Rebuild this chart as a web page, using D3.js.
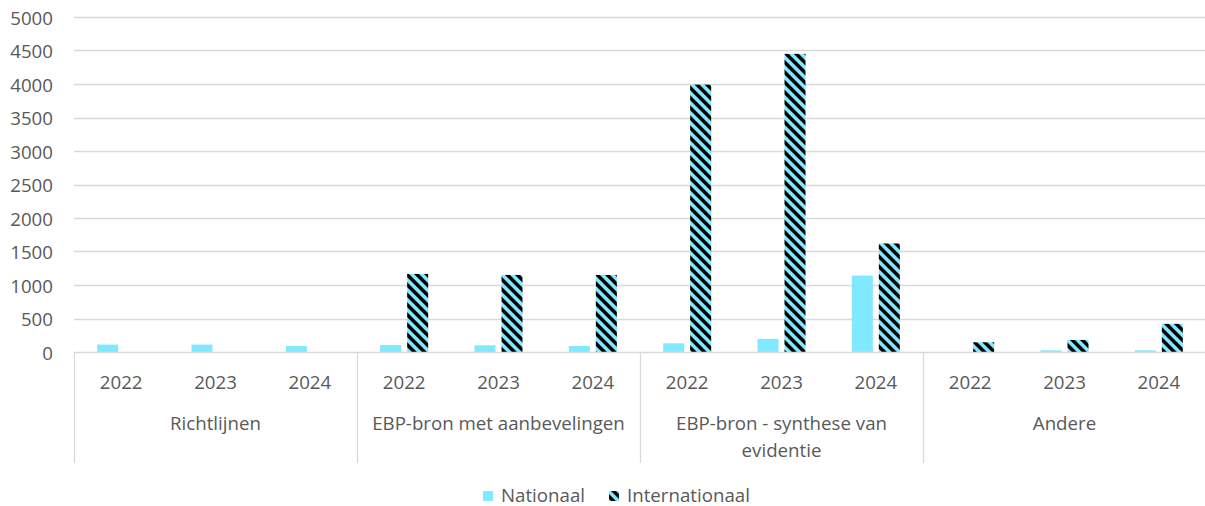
<!DOCTYPE html>
<html>
<head>
<meta charset="utf-8">
<script src="https://cdn.jsdelivr.net/npm/d3@7"></script>
<style>
  html, body { margin: 0; padding: 0; background: #fff; }
  svg { display: block; }
  text { font-family: "Open Sans", "Noto Sans", sans-serif; fill: #595959; }
</style>
</head>
<body>
<svg id="chart" width="1205" height="506"></svg>
<script>
// Categories (two-level axis) and series
const groups = [
  ["Richtlijnen"],
  ["EBP-bron met aanbevelingen"],
  ["EBP-bron - synthese van", "evidentie"],
  ["Andere"]
];
const years = ["2022", "2023", "2024"];
const seriesNames = ["Nationaal", "Internationaal"];

// Values per group, per year
const nationaal = [
  [110, 110, 90],
  [105, 100, 90],
  [130, 195, 1140],
  [0, 25, 25]
];
const internationaal = [
  [0, 0, 0],
  [1165, 1150, 1150],
  [3990, 4450, 1620],
  [145, 180, 420]
];
const yTicks = [0, 500, 1000, 1500, 2000, 2500, 3000, 3500, 4000, 4500, 5000];

const svg = d3.select("#chart");
const plotLeft = 74, plotRight = 1206, plotTop = 17, plotBottom = 352, axisBottom = 463;
const cyan = "#80E8FF";
const grid = "#D9D9D9";
const fontSize = "18.7px";

// Striped fill for the international series
const defs = svg.append("defs");
const pat = defs.append("pattern")
  .attr("id", "stripes")
  .attr("patternUnits", "userSpaceOnUse")
  .attr("width", 7.07).attr("height", 20)
  .attr("patternTransform", "rotate(-45)");
pat.append("rect").attr("width", 7.07).attr("height", 20).attr("fill", cyan);
pat.append("rect").attr("width", 3.5).attr("height", 20).attr("fill", "#000");

const y = d3.scaleLinear().domain([0, 5000]).range([plotBottom, plotTop]);
const xGroup = d3.scaleBand().domain(d3.range(groups.length)).range([plotLeft, plotRight]);
const xYear = d3.scaleBand().domain(years).range([0, xGroup.bandwidth()]);
const xSeries = d3.scaleBand().domain(seriesNames).range([0, xYear.bandwidth()])
  .paddingInner(6 / 27).paddingOuter(0.858);

// Gridlines
svg.append("g")
  .selectAll("line").data(yTicks.filter(d => d > 0)).join("line")
  .attr("x1", plotLeft).attr("x2", 1205)
  .attr("y1", d => Math.round(y(d)) + 0.5).attr("y2", d => Math.round(y(d)) + 0.5)
  .attr("stroke", grid).attr("stroke-width", 1.3);

// Y axis labels
svg.append("g")
  .selectAll("text").data(yTicks).join("text")
  .attr("x", 53).attr("y", d => y(d))
  .attr("text-anchor", "end").attr("dominant-baseline", "central")
  .style("font-size", fontSize)
  .text(d => d);

// Bars
const rows = [];
groups.forEach((g, gi) => years.forEach((yr, yi) => {
  rows.push({ gi, yr, s: "Nationaal", v: nationaal[gi][yi] });
  rows.push({ gi, yr, s: "Internationaal", v: internationaal[gi][yi] });
}));
svg.append("g")
  .selectAll("rect").data(rows.filter(d => d.v > 0)).join("rect")
  .attr("x", d => xGroup(d.gi) + xYear(d.yr) + xSeries(d.s))
  .attr("width", xSeries.bandwidth())
  .attr("y", d => y(d.v))
  .attr("height", d => plotBottom - y(d.v))
  .attr("fill", d => d.s === "Nationaal" ? cyan : "url(#stripes)");

// Category axis
svg.append("line")
  .attr("x1", plotLeft).attr("x2", 1205)
  .attr("y1", plotBottom + 0.5).attr("y2", plotBottom + 0.5)
  .attr("stroke", grid).attr("stroke-width", 1.3);
svg.append("g")
  .selectAll("line").data(d3.range(groups.length + 1)).join("line")
  .attr("x1", d => Math.round(plotLeft + d * xGroup.step()) + 0.5)
  .attr("x2", d => Math.round(plotLeft + d * xGroup.step()) + 0.5)
  .attr("y1", plotBottom).attr("y2", axisBottom)
  .attr("stroke", grid).attr("stroke-width", 1.3);

// Year labels
svg.append("g")
  .selectAll("text").data(groups.flatMap((g, gi) => years.map(yr => ({ gi, yr })))).join("text")
  .attr("x", d => xGroup(d.gi) + xYear(d.yr) + xYear.bandwidth() / 2)
  .attr("y", 381)
  .attr("text-anchor", "middle").attr("dominant-baseline", "central")
  .style("font-size", fontSize)
  .text(d => d.yr);

// Group labels
const gl = svg.append("g")
  .selectAll("text").data(groups).join("text")
  .attr("x", (d, i) => xGroup(i) + xGroup.bandwidth() / 2)
  .attr("y", 422)
  .attr("text-anchor", "middle").attr("dominant-baseline", "central")
  .style("font-size", fontSize);
gl.selectAll("tspan").data(d => d).join("tspan")
  .attr("x", function () { return d3.select(this.parentNode).attr("x"); })
  .attr("dy", (d, i) => i === 0 ? 0 : 27)
  .text(d => d);

// Legend
const legend = svg.append("g");
const legendItems = [
  { name: "Nationaal", fill: cyan, sx: 483, tx: 501 },
  { name: "Internationaal", fill: "url(#stripes)", sx: 609, tx: 627 }
];
legend.selectAll("rect").data(legendItems).join("rect")
  .attr("x", d => d.sx).attr("y", 491).attr("width", 10).attr("height", 10)
  .attr("fill", d => d.fill);
legend.selectAll("text").data(legendItems).join("text")
  .attr("x", d => d.tx).attr("y", 494.5)
  .attr("dominant-baseline", "central")
  .style("font-size", fontSize)
  .text(d => d.name);
</script>
</body>
</html>
